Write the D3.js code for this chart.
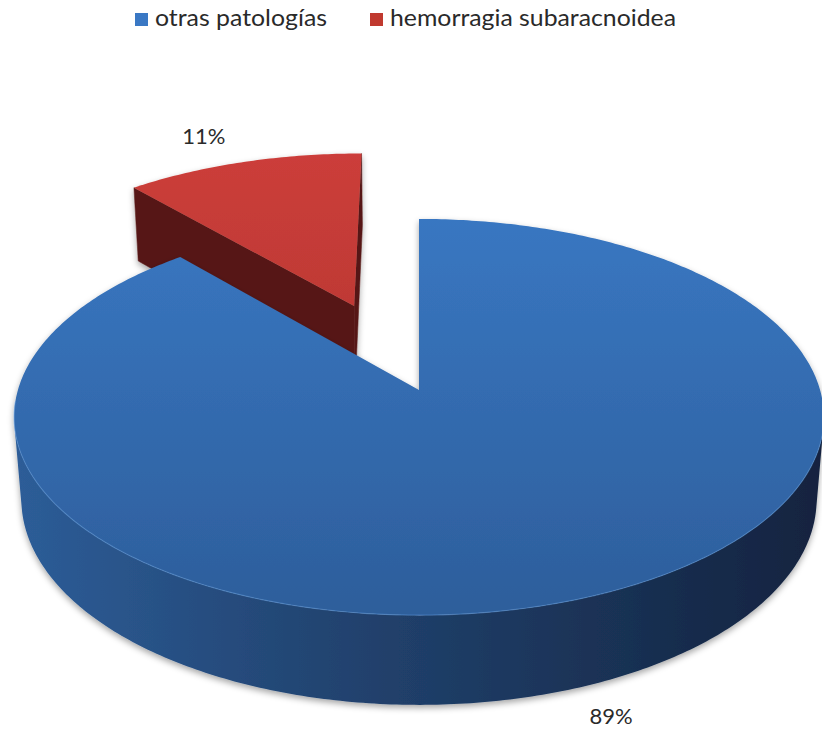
<html lang="es">
<head>
<meta charset="utf-8">
<script src="https://cdnjs.cloudflare.com/ajax/libs/d3/7.7.0/d3.min.js"></script>
<style>
html, body {
  margin: 0;
  background: #fff;
  font-family: 'Lato', 'Open Sans', sans-serif;
}
</style>
</head>
<body>
  <svg width="822" height="730"></svg>
</body>
<script>
// data
const categories = ['otras patologías', 'hemorragia subaracnoidea'];
const values = [88.6, 11.4];
const explode = [0, 0.49];

// colours
const topColors = [['#3b7bc8', '#2d5e9b'], ['#cc3e3a', '#a52f2b']];
const sideColors = [['#2d5d98', '#13233f'], ['#561816', '#4a1412']];
const legendColors = ['#3a78c4', '#c0392f'];

// camera (rough fit of the excel 3d perspective)
const cam = { cx: 419, cy: 390, f: 2571, D: 6.41, tilt: Math.asin(0.4847) };
const depth = 0.237;
const sinT = Math.sin(cam.tilt), cosT = Math.cos(cam.tilt);

const project = (x, z, h) => {
  const v = h * cosT - z * sinT;
  const w = cam.D - z * cosT - h * sinT;
  return [cam.cx + cam.f * x / w, cam.cy - cam.f * v / w];
};
const camPos = [0, cam.D * cosT, cam.D * sinT];

const svg = d3.select('svg');
const defs = svg.append('defs');

const addGrad = (id, stops, x1, y1, x2, y2) => {
  const g = defs.append('linearGradient').attr('id', id)
    .attr('gradientUnits', 'userSpaceOnUse')
    .attr('x1', x1).attr('y1', y1).attr('x2', x2).attr('y2', y2);
  stops.forEach(([o, c]) => g.append('stop').attr('offset', o).attr('stop-color', c));
};

const shadow = defs.append('filter').attr('id', 'shadow')
  .attr('x', '-10%').attr('y', '-10%').attr('width', '120%').attr('height', '130%');
shadow.append('feDropShadow')
  .attr('dx', 0).attr('dy', 3).attr('stdDeviation', 3)
  .attr('flood-color', '#000').attr('flood-opacity', 0.35);

const pie = d3.pie().sort(null).value(d => d);
const arcs = pie(values).map((a, i) => {
  const mid = (a.startAngle + a.endAngle) / 2;
  return {
    ...a, i, mid,
    off: [explode[i] * Math.sin(mid), -explode[i] * Math.cos(mid)]
  };
});

const rim = (a, t, r, h) => project(a.off[0] + r * Math.sin(t), a.off[1] - r * Math.cos(t), h);
const centre = (a, h) => project(a.off[0], a.off[1], h);

const facing = (p, n) => {
  const dx = camPos[0] - p[0], dz = camPos[1] - p[1], dh = camPos[2] - p[2];
  return dx * n[0] + dz * n[1] + dh * n[2] > 1e-6;
};

const line = d3.line();
const total = d3.sum(values);

// far slices first
const order = arcs.slice().sort((a, b) => (-Math.cos(a.mid)) - (-Math.cos(b.mid)));

order.forEach(a => {
  const i = a.i;
  addGrad('top' + i, [[0, topColors[i][0]], [1, topColors[i][1]]], 0, 150, 0, 615);
  addGrad('side' + i, [[0, sideColors[i][0]], [0.35, d3.interpolateRgb(sideColors[i][0], sideColors[i][1])(0.4)], [1, sideColors[i][1]]], 14, 0, 824, 0);

  const g = svg.append('g').attr('filter', 'url(#shadow)');
  const steps = Math.max(8, Math.round((a.endAngle - a.startAngle) * 80));
  const ts = d3.range(steps + 1).map(k => a.startAngle + (a.endAngle - a.startAngle) * k / steps);

  // outer curved wall, visible runs merged into single polygons
  const runs = [];
  let cur = null;
  for (let k = 0; k < steps; k++) {
    const tm = (ts[k] + ts[k + 1]) / 2;
    const p = [a.off[0] + Math.sin(tm), a.off[1] - Math.cos(tm), 0];
    if (facing(p, [Math.sin(tm), -Math.cos(tm), 0])) {
      if (!cur) { cur = [k, k + 1]; runs.push(cur); } else cur[1] = k + 1;
    } else cur = null;
  }
  runs.forEach(([k0, k1]) => {
    const seg = ts.slice(k0, k1 + 1);
    const pts = seg.map(t => rim(a, t, 1, 0)).concat(seg.slice().reverse().map(t => rim(a, t, 1, -depth)));
    g.append('path')
      .attr('d', line(pts) + 'Z')
      .attr('fill', `url(#side${i})`);
  });

  // radial walls
  [[a.startAngle, -1], [a.endAngle, 1]].forEach(([t, sgn]) => {
    const n = [sgn * Math.cos(t), sgn * Math.sin(t), 0];
    const p = [a.off[0] + 0.5 * Math.sin(t), a.off[1] - 0.5 * Math.cos(t), 0];
    if (!facing(p, n)) return;
    const q = [centre(a, 0), rim(a, t, 1, 0), rim(a, t, 1, -depth), centre(a, -depth)];
    g.append('path')
      .attr('d', line(q) + 'Z')
      .attr('fill', sideColors[i][0])
      .attr('stroke', sideColors[i][0])
      .attr('stroke-width', 0.5);
  });

  // top face
  const topPts = [centre(a, 0)].concat(ts.map(t => rim(a, t, 1, 0)));
  g.append('path')
    .attr('d', line(topPts) + 'Z')
    .attr('fill', `url(#top${i})`);

  // light edge along the front rim
  const front = ts.filter(t => -Math.cos(t) > 0.05).map(t => rim(a, t, 1, 0));
  if (front.length > 1) {
    g.append('path')
      .attr('d', line(front))
      .attr('fill', 'none')
      .attr('stroke', '#5b95d8')
      .attr('stroke-opacity', 0.5)
      .attr('stroke-width', 1.2);
  }
});

// percentage labels
const labelNudge = [[12, 0], [-14, 9]];
arcs.forEach(a => {
  const near = -Math.cos(a.mid) > 0;
  const r = near ? 1.12 : 1.26;
  const p = rim(a, a.mid, r, near ? -depth : 0);
  svg.append('text')
    .attr('x', p[0] + labelNudge[a.i][0])
    .attr('y', p[1] + labelNudge[a.i][1])
    .attr('text-anchor', 'middle')
    .attr('dominant-baseline', 'middle')
    .style('font-size', '22px')
    .style('fill', '#2a2a2a')
    .text(Math.round(a.value / total * 100) + '%');
});

// legend
const legendX = [135, 370];
const legendW = [172, 286];
const legend = svg.append('g');
categories.forEach((c, i) => {
  legend.append('rect')
    .attr('x', legendX[i]).attr('y', 13)
    .attr('width', 13).attr('height', 13)
    .attr('fill', legendColors[i]);
  legend.append('text')
    .attr('x', legendX[i] + 20).attr('y', 26)
    .attr('textLength', legendW[i])
    .attr('lengthAdjust', 'spacingAndGlyphs')
    .style('font-size', '23px')
    .style('fill', '#2a2a2a')
    .text(c);
});
</script>
</html>
